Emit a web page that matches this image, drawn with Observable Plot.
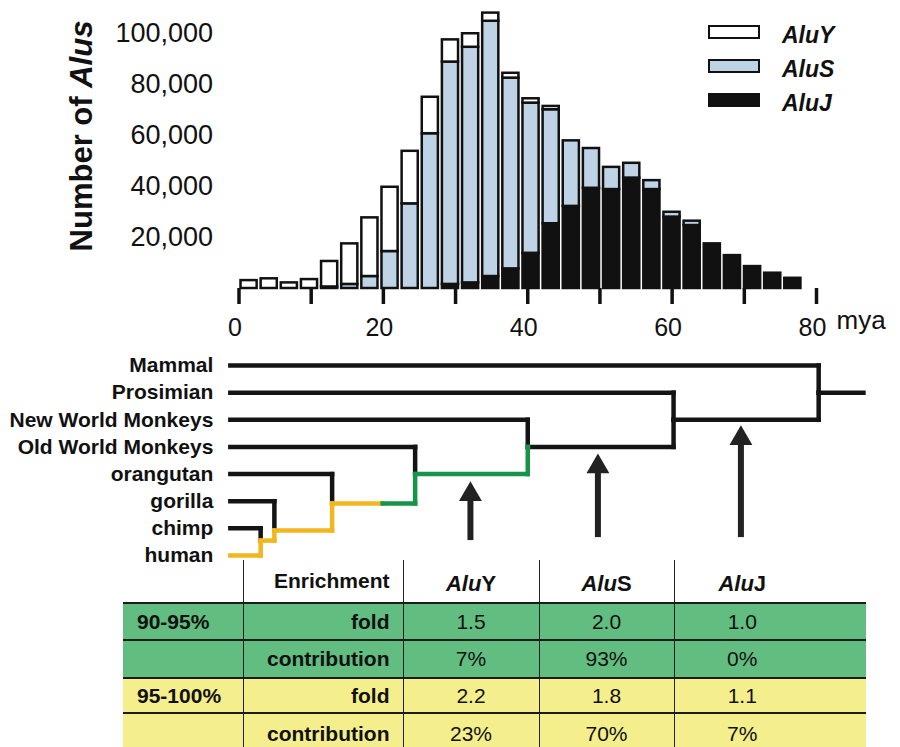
<!DOCTYPE html>
<html>
<head>
<meta charset="utf-8">
<script src="https://cdn.jsdelivr.net/npm/d3@7"></script>
<script src="https://cdn.jsdelivr.net/npm/@observablehq/plot@0.6"></script>
<style>
  body { margin: 0; background: #fff; font-family: "Liberation Sans", Arial, Helvetica, sans-serif; color: #111; }
  #fig { position: relative; width: 900px; height: 747px; overflow: hidden; }
  .layer { position: absolute; left: 0; }
  #ytitle { position: absolute; left: 82px; top: 136px; transform: translate(-50%, -50%) rotate(-90deg);
            white-space: nowrap; font-weight: bold; font-size: 31px; }
  .legbox { position: absolute; left: 708px; width: 48px; border: 2px solid #111; box-sizing: content-box; }
  .legtxt { position: absolute; left: 782px; font-weight: bold; font-style: italic; font-size: 23px; line-height: 24px; }
  #tbl { position: absolute; left: 123px; top: 560px; width: 743px; border-collapse: collapse; table-layout: fixed; color: #111; }
  #tbl td { padding: 0; font-size: 21px; border-top: 2px solid #1c1c1c; white-space: nowrap; }
  #tbl tr.head td { border-top: none; background: transparent; }
  #tbl td.c1 { font-weight: bold; text-align: left; padding-left: 14px; }
  #tbl td.c2 { font-weight: bold; text-align: right; padding-right: 13px; border-left: 1.5px solid #222; }
  #tbl td.v { text-align: center; border-left: 1.5px solid #222; }
  #tbl td.last { padding-right: 56px; }
  #tbl tr.head td.v { font-weight: bold; font-size: 22px; padding-top: 6px; }
</style>
</head>
<body>
<div id="fig"></div>
<script>
// ---------------- DATA ----------------
// Histogram: 28 age bins (each ~2.79 Myr wide), counts per Alu subfamily
const binWidth = 2.79;
const aluY = [3100, 3800, 2200, 3500, 10000, 15900, 23000, 25200, 20600, 14300, 8700, 5300, 3200, 1900,
              1700, 1300, 0, 0, 0, 0, 0, 0, 0, 0, 0, 0, 0, 0];
const aluS = [0, 0, 0, 0, 600, 1600, 4700, 14500, 33200, 60700, 87200, 92400, 100100, 74800,
              58900, 44700, 25700, 15600, 8700, 5800, 3500, 1900, 1700, 0, 0, 0, 0, 0];
const aluJ = [0, 0, 0, 0, 0, 0, 0, 0, 0, 0, 1600, 2200, 4700, 7700,
              13800, 25400, 32200, 39300, 38800, 43300, 38800, 28000, 24700, 17500, 12900, 8600, 6000, 4000];
const families = ["AluY", "AluS", "AluJ"];
const familyFill = ["#ffffff", "#bfd3e6", "#111111"];
const xTicks = [0, 10, 20, 30, 40, 50, 60, 70, 80];
const xLabels = [0, 20, 40, 60, 80];
const yTicks = [20000, 40000, 60000, 80000, 100000];

// Tree (divergence ages in mya, rows = leaf order top to bottom)
const taxa = ["Mammal", "Prosimian", "New World Monkeys", "Old World Monkeys", "orangutan", "gorilla", "chimp", "human"];
const leafStart = -1.2;
const leafJoinAge = [80.3, 60.2, 40.0, 24.4, 12.9, 4.9, 3.0, 3.0];
const cladeAge = [80.3, 60.2, 40.0, 24.4, 12.9, 4.9, 3.0];
const cladeTop = [0, 1, 2, 3, 4, 5, 6];
const cladeBottom = [2, 3, 4, 5.08, 6.08, 6.45, 7];
const cladeStem = [1, 2, 3, 4, 5.08, 6.08, 6.45];
const rootStemAge = 86.5;
const lineageBands = [{max: 19.9, color: "#f2b61e"}, {max: 40.05, color: "#15944a"}];
// Arrows marking subfamily expansions
const arrowAge = [32.06, 49.72, 69.53];
const arrowTipRow = [4.27, 3.25, 2.21];
const arrowBaseRow = [6.45, 6.34, 6.34];

// Table
const thresholds = ["90-95%", "95-100%"];
const thresholdFill = ["#62bd80", "#f4ee8c"];
const foldValues = [["1.5", "2.0", "1.0"], ["2.2", "1.8", "1.1"]];
const contributionValues = [["7%", "93%", "0%"], ["23%", "70%", "7%"]];

// ---------------- BUILD ----------------
const fig = document.getElementById("fig");
const fontFamily = '"Liberation Sans", Arial, Helvetica, sans-serif';

// stacked segments (AluJ bottom, AluS middle, AluY top)
const stackOrder = ["AluJ", "AluS", "AluY"];
const counts = {AluJ: aluJ, AluS: aluS, AluY: aluY};
const segs = [];
aluJ.forEach((_, i) => {
  let base = 0;
  for (const fam of stackOrder) {
    const v = counts[fam][i];
    if (v > 0) segs.push({family: fam, x1: i * binWidth, x2: (i + 1) * binWidth, y1: base, y2: base + v});
    base += v;
  }
});

const hist = Plot.plot({
  width: 900, height: 345,
  marginLeft: 238.5, marginRight: 84, marginTop: 33, marginBottom: 57,
  x: {domain: [0, 80], label: null},
  y: {domain: [0, 100000], label: null},
  color: {domain: families, range: familyFill},
  style: {fontFamily, fontSize: "25px", color: "#111", background: "transparent", overflow: "visible"},
  marks: [
    Plot.rect(segs, {x1: "x1", x2: "x2", y1: "y1", y2: "y2", fill: "family", stroke: "#111", strokeWidth: 2.5, insetLeft: 2, insetRight: 2}),
    Plot.axisX({ticks: xTicks, tickFormat: () => "", tickSize: 16, strokeWidth: 3.5, label: null}),
    Plot.axisX({ticks: xLabels, tickSize: 0, tickPadding: 30, dx: -4, fontSize: 25, label: null}),
    Plot.axisY({ticks: yTicks, tickFormat: d3.format(","), tickSize: 0, tickPadding: 26, fontSize: 27, label: null}),
    Plot.text(["mya"], {x: () => 80, frameAnchor: "bottom", dy: 40, dx: 20, textAnchor: "start", fontSize: 26})
  ]
});
hist.classList.add("layer");
hist.style.top = "0px";
fig.appendChild(hist);

// y title
const yt = document.createElement("div");
yt.id = "ytitle";
yt.innerHTML = "Number of <i>Alus</i>";
fig.appendChild(yt);

// legend
families.forEach((fam, i) => {
  const box = document.createElement("div");
  box.className = "legbox";
  box.style.top = (25 + i * 34) + "px";
  box.style.height = "10px";
  box.style.background = familyFill[i];
  fig.appendChild(box);
  const t = document.createElement("div");
  t.className = "legtxt";
  t.style.top = (25 + i * 34 - 2) + "px";
  t.textContent = fam;
  fig.appendChild(t);
});

// tree segments
const black = "#141414";
function lineageColor(age) {
  for (const b of lineageBands) if (age <= b.max) return b.color;
  return black;
}
const links = [];
function addLineageH(a0, a1, row) {
  const cuts = [a0, ...lineageBands.map(b => b.max).filter(m => m > a0 && m < a1), a1];
  for (let k = 0; k < cuts.length - 1; k++) {
    links.push({x1: cuts[k], x2: cuts[k + 1], y1: row, y2: row, color: lineageColor((cuts[k] + cuts[k + 1]) / 2)});
  }
}
taxa.forEach((name, j) => {
  if (j === taxa.length - 1) addLineageH(leafStart, leafJoinAge[j], j);
  else links.push({x1: leafStart, x2: leafJoinAge[j], y1: j, y2: j, color: black});
});
cladeAge.forEach((age, i) => {
  links.push({x1: age, x2: age, y1: cladeTop[i], y2: cladeStem[i], color: black});
  links.push({x1: age, x2: age, y1: cladeStem[i], y2: cladeBottom[i], color: lineageColor(age)});
  const parent = i === 0 ? rootStemAge : cladeAge[i - 1];
  addLineageH(age, parent, cladeStem[i]);
});
const arrows = arrowAge.map((a, i) => ({age: a, tip: arrowTipRow[i], base: arrowBaseRow[i]}));
const leaves = taxa.map((name, j) => ({name, row: j, x: leafStart}));

const tree = Plot.plot({
  width: 900, height: 235,
  marginLeft: 238.5, marginRight: 84, marginTop: 25, marginBottom: 20,
  x: {domain: [0, 80], axis: null},
  y: {domain: [0, 7], reverse: true, axis: null},
  style: {fontFamily, color: "#111", background: "transparent", overflow: "visible"},
  marks: [
    Plot.link(links.filter(d => d.color === black), {x1: "x1", y1: "y1", x2: "x2", y2: "y2", stroke: black, strokeWidth: 4.5, strokeLinecap: "square"}),
    Plot.link(links.filter(d => d.color !== black), {x1: "x1", y1: "y1", x2: "x2", y2: "y2", stroke: d => d.color, strokeWidth: 4.5, strokeLinecap: "square"}),
    Plot.text(leaves, {x: "x", y: "row", text: "name", textAnchor: "end", dx: -17, fontWeight: "bold", fontSize: 21}),
    Plot.ruleX(arrows, {x: "age", y1: "tip", y2: "base", stroke: "#222", strokeWidth: 6, insetTop: 12}),
    Plot.dot(arrows, {x: "age", y: "tip", symbol: "triangle", r: 8.5, fill: "#222", stroke: "none", dy: 13})
  ]
});
tree.classList.add("layer");
tree.style.top = "340px";
fig.appendChild(tree);

// table
const tbl = document.createElement("table");
tbl.id = "tbl";
const colW = [120, 160, 136, 135, 192];
const cg = document.createElement("colgroup");
colW.forEach(w => { const c = document.createElement("col"); c.style.width = w + "px"; cg.appendChild(c); });
tbl.appendChild(cg);
function addRow(cells, cls, height, bg) {
  const tr = document.createElement("tr");
  if (cls) tr.className = cls;
  tr.style.height = height + "px";
  cells.forEach((c, k) => {
    const td = document.createElement("td");
    td.className = k === 0 ? "c1" : k === 1 ? "c2" : "v" + (k === cells.length - 1 ? " last" : "");
    td.innerHTML = c;
    if (bg) td.style.background = bg;
    tr.appendChild(td);
  });
  tbl.appendChild(tr);
}
addRow(["", "Enrichment", ...families.map(f => "<i>Alu</i>" + f.slice(3))], "head", 43, null);
const rowH = [[37, 38], [35, 40]];
thresholds.forEach((t, i) => {
  addRow([t, "fold", ...foldValues[i]], "", rowH[i][0], thresholdFill[i]);
  addRow(["", "contribution", ...contributionValues[i]], "", rowH[i][1], thresholdFill[i]);
});
fig.appendChild(tbl);
</script>
</body>
</html>
